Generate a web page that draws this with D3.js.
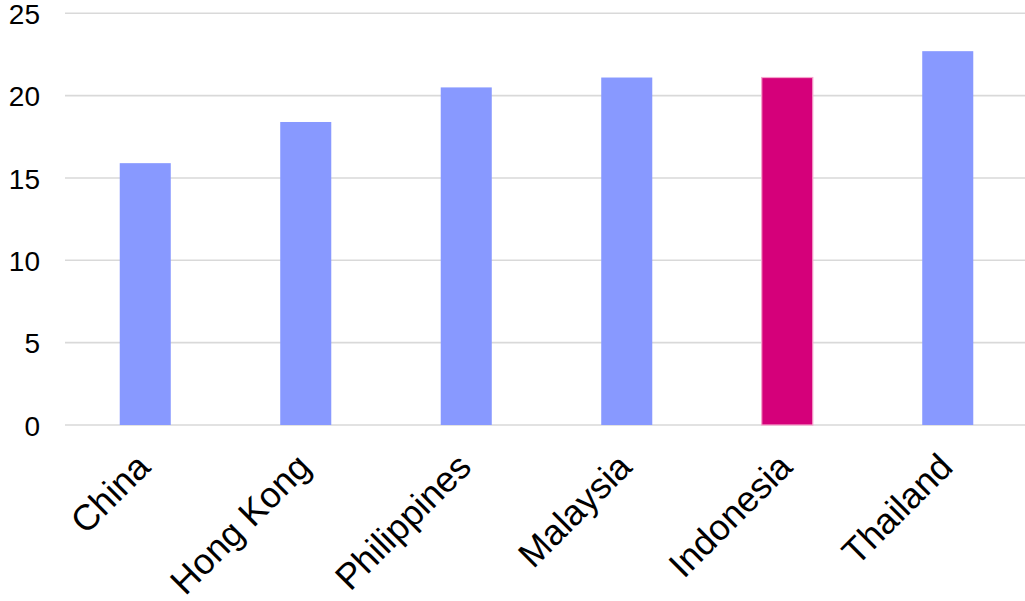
<!DOCTYPE html>
<html>
<head>
<meta charset="utf-8">
<script src="https://cdn.jsdelivr.net/npm/d3@7"></script>
<style>
  html, body { margin: 0; padding: 0; background: #fff; }
  svg { display: block; }
  text { font-family: "Liberation Sans", Arial, sans-serif; fill: #000; }
</style>
</head>
<body>
<svg id="chart" width="1025" height="601"></svg>
<script>
// Countries and their values
const categories = ["China", "Hong Kong", "Philippines", "Malaysia", "Indonesia", "Thailand"];
const values = [15.9, 18.4, 20.5, 21.1, 21.1, 22.7];
const highlighted = ["Indonesia"];
const yTicks = [0, 5, 10, 15, 20, 25];

const width = 1025, height = 601;
const plot = { left: 65, right: 1028, top: 13.3, bottom: 425 };

const svg = d3.select("#chart");

const x = d3.scaleBand()
  .domain(categories)
  .range([plot.left, plot.right])
  .paddingInner(0.682)
  .paddingOuter(0.341);

const y = d3.scaleLinear()
  .domain([0, 25])
  .range([plot.bottom, plot.top]);

// Horizontal gridlines
svg.append("g")
  .selectAll("line")
  .data(yTicks)
  .join("line")
  .attr("x1", plot.left)
  .attr("x2", width)
  .attr("y1", d => y(d))
  .attr("y2", d => y(d))
  .attr("stroke", "#d9d9d9")
  .attr("stroke-width", 1.6);

// Y axis labels
const yAxis = d3.axisLeft(y).tickValues(yTicks).tickSize(0).tickPadding(0);
svg.append("g")
  .attr("transform", "translate(40,0)")
  .call(yAxis)
  .call(g => g.select(".domain").remove())
  .call(g => g.selectAll("text")
    .attr("font-size", 28)
    .attr("font-family", "'Liberation Sans', Arial, sans-serif")
    .attr("fill", "#000")
    .attr("dy", "0.36em"));

// Bars
svg.append("g")
  .selectAll("rect")
  .data(categories.map((c, i) => ({ c, v: values[i] })))
  .join("rect")
  .attr("x", d => x(d.c))
  .attr("width", x.bandwidth())
  .attr("y", d => y(d.v))
  .attr("height", d => y(0) - y(d.v))
  .attr("fill", d => highlighted.includes(d.c) ? "#d5007a" : "#8899ff")
  .attr("stroke", d => highlighted.includes(d.c) ? "#f5a3cc" : "none")
  .attr("stroke-width", 1.2);

// Rotated category labels
const xAxis = d3.axisBottom(x).tickSize(0).tickPadding(0);
svg.append("g")
  .attr("transform", `translate(0,${plot.bottom})`)
  .call(xAxis)
  .call(g => g.select(".domain").remove())
  .call(g => g.selectAll("text")
    .attr("font-size", 36)
    .attr("font-family", "'Liberation Sans', Arial, sans-serif")
    .attr("fill", "#000")
    .attr("text-anchor", "end")
    .attr("dy", 0)
    .attr("y", 0)
    .attr("transform", "translate(7,44) rotate(-45)"));
</script>
</body>
</html>
